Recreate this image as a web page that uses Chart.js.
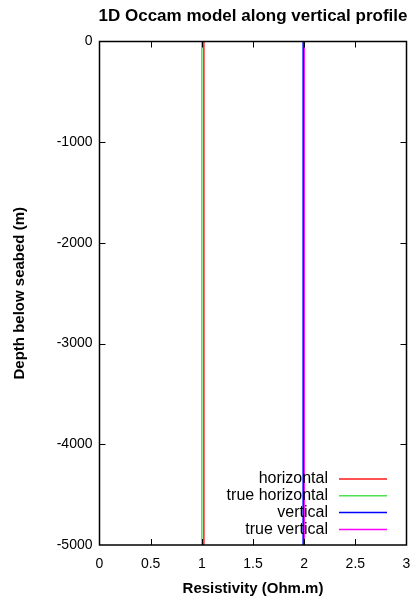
<!DOCTYPE html>
<html>
<head>
<meta charset="utf-8">
<script src="https://cdn.jsdelivr.net/npm/chart.js@4/dist/chart.umd.min.js"></script>
<style>
html,body{margin:0;padding:0;background:#fff;}
#wrap{width:415px;height:596px;position:relative;}
</style>
</head>
<body>
<div id="wrap"><canvas id="c" width="415" height="596"></canvas></div>
<script>
// Data
const depths = [0, -1000, -2000, -3000, -4000, -5000];
const horizontal = [1.02, 1.02, 1.02, 1.02, 1.02, 1.02];
const trueHorizontal = [1.0, 1.0, 1.0, 1.0, 1.0, 1.0];
const vertical = [1.99, 1.99, 1.99, 1.99, 1.99, 1.99];
const trueVertical = [2.0, 2.0, 2.0, 2.0, 2.0, 2.0];
const seriesLabels = ['horizontal', 'true horizontal', 'vertical', 'true vertical'];
const xTicks = [0, 0.5, 1, 1.5, 2, 2.5, 3];
const yTicks = [0, -1000, -2000, -3000, -4000, -5000];
const titleText = '1D Occam model along vertical profile';

const FONT = "'Liberation Sans', Arial, sans-serif";

function pts(vals) { return vals.map((v, i) => ({x: v, y: depths[i]})); }

const gnuplotFrame = {
  id: 'gnuplotFrame',
  afterDatasetsDraw(chart) {
    const ctx = chart.ctx;
    const a = chart.chartArea;
    const xs = chart.scales.x, ys = chart.scales.y;
    ctx.save();
    // title centred over plot area
    ctx.fillStyle = '#000';
    ctx.font = "bold 17px " + FONT;
    ctx.textAlign = 'center';
    ctx.textBaseline = 'middle';
    ctx.fillText(titleText, (a.left + a.right) / 2, 16);

    ctx.strokeStyle = '#000';
    ctx.lineWidth = 1;
    const tl = 6;
    ctx.beginPath();
    xTicks.forEach(v => {
      const px = Math.round(xs.getPixelForValue(v)) + 0.5;
      if (v !== xTicks[0] && v !== xTicks[xTicks.length - 1]) {
        ctx.moveTo(px, a.bottom); ctx.lineTo(px, a.bottom - tl);
        ctx.moveTo(px, a.top); ctx.lineTo(px, a.top + tl);
      }
    });
    yTicks.forEach(v => {
      const py = Math.round(ys.getPixelForValue(v)) + 0.5;
      if (v !== yTicks[0] && v !== yTicks[yTicks.length - 1]) {
        ctx.moveTo(a.left, py); ctx.lineTo(a.left + tl, py);
        ctx.moveTo(a.right, py); ctx.lineTo(a.right - tl, py);
      }
    });
    ctx.stroke();
    ctx.lineWidth = 1.5;
    ctx.strokeRect(a.left, a.top, a.right - a.left, a.bottom - a.top);

    // legend inside bottom right
    ctx.font = "16px " + FONT;
    ctx.textAlign = 'right';
    ctx.textBaseline = 'middle';
    const textRight = a.right - 78.5;
    const lineX0 = a.right - 67.5, lineX1 = a.right - 19.5;
    const rowH = 16.8;
    const y0 = a.bottom - 66;
    chart.data.datasets.forEach((ds, i) => {
      const y = y0 + i * rowH;
      ctx.fillStyle = '#000';
      ctx.fillText(ds.label, textRight, y);
      ctx.strokeStyle = ds.borderColor;
      ctx.lineWidth = 1.5;
      ctx.beginPath();
      ctx.moveTo(lineX0, y); ctx.lineTo(lineX1, y);
      ctx.stroke();
    });
    ctx.restore();
  }
};

const mk = (label, vals, color) => ({
  label, data: pts(vals), borderColor: color, backgroundColor: color,
  borderWidth: 1.5, pointRadius: 0, fill: false, tension: 0
});

new Chart(document.getElementById('c'), {
  type: 'line',
  data: {
    datasets: [
      mk(seriesLabels[0], horizontal, '#ff1a1a'),
      mk(seriesLabels[1], trueHorizontal, '#4ee04e'),
      mk(seriesLabels[2], vertical, '#0000ff'),
      mk(seriesLabels[3], trueVertical, '#ff00ff')
    ]
  },
  options: {
    responsive: false,
    animation: false,
    layout: {padding: {top: 41.5, right: 8.5, left: 0, bottom: 0}},
    plugins: {
      legend: {display: false},
      tooltip: {enabled: false},
      title: {display: false}
    },
    scales: {
      x: {
        type: 'linear', min: 0, max: 3,
        afterBuildTicks: s => { s.ticks = xTicks.map(v => ({value: v})); },
        afterFit: s => { s.height = 51; s.paddingLeft = 0; s.paddingRight = 0; },
        grid: {display: false, drawTicks: false},
        border: {display: false},
        ticks: {color: '#000', font: {family: FONT, size: 14}, padding: 11,
          callback: v => String(v), maxRotation: 0},
        title: {display: true, text: 'Resistivity (Ohm.m)', color: '#000',
          font: {family: FONT, size: 15, weight: 'bold'}, padding: {top: 4, bottom: -2}}
      },
      y: {
        type: 'linear', min: -5000, max: 0,
        afterBuildTicks: s => { s.ticks = yTicks.map(v => ({value: v})); },
        afterFit: s => { s.width = 99.5; s.paddingTop = 0; s.paddingBottom = 0; },
        grid: {display: false, drawTicks: false},
        border: {display: false},
        ticks: {color: '#000', font: {family: FONT, size: 14}, padding: 7,
          callback: v => String(v)},
        title: {display: true, text: 'Depth below seabed (m)', color: '#000',
          font: {family: FONT, size: 15, weight: 'bold'}, padding: {top: 11, bottom: 0}}
      }
    }
  },
  plugins: [gnuplotFrame]
});
</script>
</body>
</html>
